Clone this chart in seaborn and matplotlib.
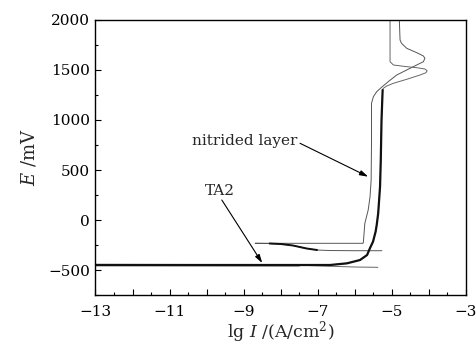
import matplotlib
matplotlib.use("Agg")
import matplotlib.pyplot as plt
from matplotlib.ticker import MultipleLocator, FixedLocator, FixedFormatter
import seaborn as sns
import pandas as pd

# ---- data ----
ta2_lgi = [-5.38, -6.0, -6.7, -7.5, -13.3, -7.0, -6.67, -6.21, -5.86, -5.67, -5.59,
           -5.51, -5.44, -5.41, -5.37, -5.32, -5.30, -5.28, -5.25, -5.23, -5.14,
           -4.96, -4.60, -4.24, -4.08, -4.05, -4.11, -4.33, -4.60, -4.96, -5.05, -5.05]
ta2_e = [-473, -470, -462, -452, -450, -450, -450, -433, -400, -350, -280,
         -217, -117, -50, 67, 333, 600, 1000, 1300, 1317, 1340,
         1367, 1407, 1450, 1473, 1493, 1510, 1523, 1533, 1550, 1583, 2010]

nit_lgi = [-5.27, -6.0, -6.7, -7.02, -7.3, -7.67, -8.0, -8.3, -8.69, -7.0, -5.78,
           -5.77, -5.73, -5.64, -5.59, -5.56, -5.55, -5.55, -5.50, -5.41, -5.28,
           -5.10, -4.87, -4.60, -4.33, -4.15, -4.11, -4.15, -4.33, -4.60, -4.74,
           -4.78, -4.80]
nit_e = [-307, -307, -305, -300, -285, -255, -240, -235, -233, -233, -233,
         -220, -33, 100, 233, 400, 800, 1167, 1233, 1283, 1327,
         1383, 1450, 1500, 1550, 1583, 1617, 1640, 1673, 1717, 1767,
         1800, 2010]

x_ticks = [-13, -12, -11, -10, -9, -8, -7, -6, -5, -4, -3]
x_tick_labels = ["\u221213", "", "\u221211", "", "\u22129", "", "\u22127", "", "\u22125", "", "\u22123"]
y_ticks = [-500, 0, 500, 1000, 1500, 2000]
y_tick_labels = ["\u2212500", "0", "500", "1000", "1500", "2000"]

ta2 = pd.DataFrame({"lgI": ta2_lgi, "E": ta2_e})
nit = pd.DataFrame({"lgI": nit_lgi, "E": nit_e})

sns.set_style("ticks")
plt.rcParams["font.family"] = ["DejaVu Serif"]
plt.rcParams["mathtext.fontset"] = "dejavuserif"

fig = plt.figure(figsize=(4.76, 3.44), dpi=100)
ax = fig.add_axes([0.2006, 0.1424, 0.7784, 0.7995])

kw = dict(x="lgI", y="E", sort=False, estimator=None, ax=ax, legend=False)
sns.lineplot(data=nit, color="#555555", linewidth=0.7, **kw)
sns.lineplot(data=nit.iloc[3:8], color="#111111", linewidth=1.4, **kw)
sns.lineplot(data=ta2, color="#666666", linewidth=0.7, **kw)
sns.lineplot(data=ta2.iloc[3:19], color="#111111", linewidth=1.6, **kw)

ax.set_xlim(-13, -3)
ax.set_ylim(-750, 2000)
ax.xaxis.set_major_locator(FixedLocator(x_ticks))
ax.xaxis.set_major_formatter(FixedFormatter(x_tick_labels))
ax.xaxis.set_minor_locator(MultipleLocator(0.5))
ax.yaxis.set_major_locator(FixedLocator(y_ticks))
ax.yaxis.set_major_formatter(FixedFormatter(y_tick_labels))
ax.yaxis.set_minor_locator(MultipleLocator(250))

ax.tick_params(which="both", direction="in", top=False, right=False, width=0.8,
               colors="black", labelsize=11)
ax.tick_params(which="major", length=4.5)
ax.tick_params(which="minor", length=2.5)
ax.tick_params(axis="x", pad=7)
ax.tick_params(axis="y", pad=4)
for s in ax.spines.values():
    s.set_visible(True)
    s.set_linewidth(1.0)
    s.set_color("black")

ax.set_xlabel(r"lg $I$ /(A/cm$^2$)", fontsize=12.5, labelpad=0)
ax.set_ylabel(r"$E$ /mV", fontsize=13, labelpad=7)

ax.text(-7.56, 790, "nitrided layer", ha="right", va="center", fontsize=11)
ax.annotate("", xy=(-5.64, 433), xytext=(-7.48, 767),
            arrowprops=dict(arrowstyle="-|>,head_length=0.5,head_width=0.15",
                            color="black", lw=0.8, shrinkA=0, shrinkB=0))
ax.text(-9.64, 290, "TA2", ha="center", va="center", fontsize=11)
ax.annotate("", xy=(-8.5, -430), xytext=(-9.59, 200),
            arrowprops=dict(arrowstyle="-|>,head_length=0.5,head_width=0.15",
                            color="black", lw=0.8, shrinkA=0, shrinkB=0))

fig.savefig("out.png", dpi=100)
